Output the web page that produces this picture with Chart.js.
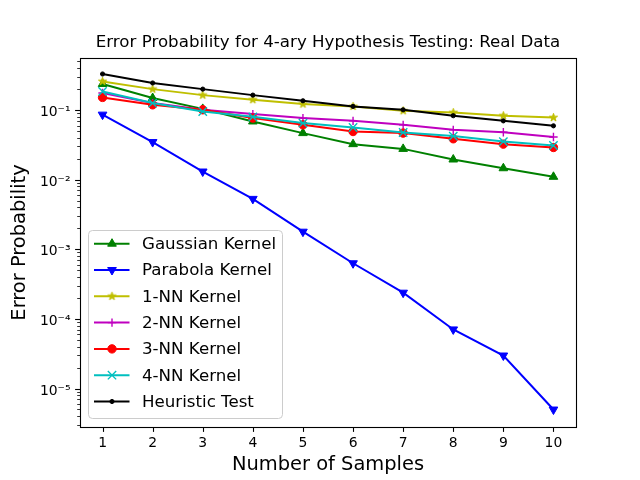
<!DOCTYPE html>
<html>
<head>
<meta charset="utf-8">
<script src="https://cdn.jsdelivr.net/npm/chart.js@4.4.1/dist/chart.umd.min.js"></script>
<style>
  html, body { margin: 0; padding: 0; background: #ffffff; }
  #c { display: block; }
</style>
</head>
<body>
<canvas id="c" width="640" height="480"></canvas>
<script>
// ---------------- DATA ----------------
const samples = [1, 2, 3, 4, 5, 6, 7, 8, 9, 10];
const seriesNames = ["Gaussian Kernel", "Parabola Kernel", "1-NN Kernel", "2-NN Kernel", "3-NN Kernel", "4-NN Kernel", "Heuristic Test"];
const gaussian  = [0.237, 0.149, 0.104, 0.0686, 0.0467, 0.0324, 0.0277, 0.0195, 0.0146, 0.0110];
const parabola  = [0.086, 0.0347, 0.0131, 0.0053, 0.00179, 0.00063, 0.000238, 0.0000706, 0.0000298, 0.00000499];
const nn1       = [0.258, 0.200, 0.164, 0.141, 0.122, 0.113, 0.0977, 0.092, 0.083, 0.078];
const nn2       = [0.176, 0.126, 0.101, 0.0876, 0.0767, 0.070, 0.0614, 0.052, 0.048, 0.041];
const nn3       = [0.152, 0.119, 0.101, 0.0767, 0.0614, 0.0492, 0.0467, 0.0387, 0.0324, 0.029];
const nn4       = [0.185, 0.126, 0.0955, 0.080, 0.065, 0.0562, 0.0477, 0.0423, 0.0353, 0.031];
const heuristic = [0.330, 0.245, 0.200, 0.164, 0.136, 0.113, 0.101, 0.083, 0.070, 0.0594];
const xTickValues = [1, 2, 3, 4, 5, 6, 7, 8, 9, 10];
const yTickExponents = [-5, -4, -3, -2, -1];
const titleText = "Error Probability for 4-ary Hypothesis Testing: Real Data";
const xLabel = "Number of Samples";
const yLabel = "Error Probability";

// ---------------- STYLE ----------------
const FONT = "'DejaVu Sans', sans-serif";
const colors = ["#008000", "#0000ff", "#bfbf00", "#bf00bf", "#ff0000", "#00bfbf", "#000000"];

function makeStar(color, r) {
  const c = document.createElement('canvas');
  const s = Math.ceil(r * 2 + 4);
  c.width = s; c.height = s;
  const g = c.getContext('2d');
  g.beginPath();
  for (let i = 0; i < 10; i++) {
    const ang = -Math.PI / 2 + i * Math.PI / 5;
    const rr = (i % 2) ? r * 0.382 : r;
    g.lineTo(s / 2 + rr * Math.cos(ang), s / 2 + rr * Math.sin(ang));
  }
  g.closePath();
  g.fillStyle = color; g.fill();
  g.strokeStyle = color; g.lineWidth = 1; g.lineJoin = 'miter'; g.stroke();
  return c;
}

const markers = [
  { style: 'triangle', radius: 5, rotation: 0, bw: 1 },
  { style: 'triangle', radius: 5, rotation: 180, bw: 1 },
  { style: makeStar(colors[2], 4.3), radius: 5, rotation: 0, bw: 1 },
  { style: 'cross', radius: 4.2, rotation: 0, bw: 1.4 },
  { style: 'circle', radius: 4.2, rotation: 0, bw: 1 },
  { style: 'crossRot', radius: 5.9, rotation: 0, bw: 1.4 },
  { style: 'circle', radius: 2.1, rotation: 0, bw: 1 }
];

const allSeries = [gaussian, parabola, nn1, nn2, nn3, nn4, heuristic];
const datasets = allSeries.map((vals, i) => ({
  label: seriesNames[i],
  data: samples.map((x, k) => ({ x: x, y: vals[k] })),
  borderColor: colors[i],
  backgroundColor: colors[i],
  borderWidth: 2,
  pointStyle: markers[i].style,
  pointRadius: markers[i].radius,
  pointRotation: markers[i].rotation,
  pointBorderWidth: markers[i].bw,
  pointBackgroundColor: colors[i],
  pointBorderColor: colors[i],
  tension: 0,
  fill: false,
  order: allSeries.length - i
}));

const supMap = { '-': '\u207B', '0': '\u2070', '1': '\u00B9', '2': '\u00B2', '3': '\u00B3', '4': '\u2074', '5': '\u2075', '6': '\u2076', '7': '\u2077', '8': '\u2078', '9': '\u2079' };
function sup(n) { return String(n).split('').map(ch => supMap[ch] || ch).join(''); }
function isPow10(v) {
  const e = Math.round(Math.log10(v));
  return Math.abs(v / Math.pow(10, e) - 1) < 1e-6;
}

// Title centred over the axes (matplotlib style)
const titlePlugin = {
  id: 'axesTitle',
  afterDraw(chart) {
    const ctx = chart.ctx;
    const a = chart.chartArea;
    ctx.save();
    ctx.font = "16.67px " + FONT;
    ctx.fillStyle = '#000';
    ctx.textAlign = 'center';
    ctx.textBaseline = 'middle';
    ctx.fillText(titleText, (a.left + a.right) / 2, a.top - 15);
    ctx.restore();
  }
};

// Frame + tick marks (matplotlib style)
const framePlugin = {
  id: 'frame',
  afterDraw(chart) {
    const ctx = chart.ctx;
    const a = chart.chartArea;
    const xs = chart.scales.x, ys = chart.scales.y;
    ctx.save();
    ctx.strokeStyle = '#000';
    ctx.lineWidth = 1.1;
    xs.ticks.forEach(t => {
      const px = Math.round(xs.getPixelForValue(t.value)) + 0.5;
      ctx.beginPath(); ctx.moveTo(px, a.bottom); ctx.lineTo(px, a.bottom + 4.9); ctx.stroke();
    });
    ys.ticks.forEach(t => {
      const major = isPow10(t.value);
      const py = Math.round(ys.getPixelForValue(t.value)) + 0.5;
      ctx.lineWidth = major ? 1.1 : 0.8;
      ctx.beginPath(); ctx.moveTo(a.left, py); ctx.lineTo(a.left - (major ? 4.9 : 2.8), py); ctx.stroke();
    });
    ctx.lineWidth = 1.1;
    ctx.strokeRect(Math.round(a.left) + 0.5, Math.round(a.top) + 0.5, Math.round(a.right - a.left), Math.round(a.bottom - a.top));
    ctx.restore();
  }
};

// Legend drawn inside the axes (lower-left, matplotlib style)
const legendPlugin = {
  id: 'mplLegend',
  afterDraw(chart) {
    const ctx = chart.ctx;
    const dsets = chart.data.datasets;
    const bx = 88.5, by = 230.5, bw = 194, bh = 188, r = 4;
    ctx.save();
    ctx.beginPath();
    ctx.moveTo(bx + r, by);
    ctx.lineTo(bx + bw - r, by); ctx.quadraticCurveTo(bx + bw, by, bx + bw, by + r);
    ctx.lineTo(bx + bw, by + bh - r); ctx.quadraticCurveTo(bx + bw, by + bh, bx + bw - r, by + bh);
    ctx.lineTo(bx + r, by + bh); ctx.quadraticCurveTo(bx, by + bh, bx, by + bh - r);
    ctx.lineTo(bx, by + r); ctx.quadraticCurveTo(bx, by, bx + r, by);
    ctx.closePath();
    ctx.fillStyle = 'rgba(255,255,255,0.8)'; ctx.fill();
    ctx.strokeStyle = '#cccccc'; ctx.lineWidth = 1; ctx.stroke();
    ctx.font = "16.67px " + FONT;
    ctx.textBaseline = 'middle';
    ctx.textAlign = 'left';
    dsets.forEach((d, i) => {
      const y = 243.7 + i * 26.3;
      ctx.strokeStyle = d.borderColor; ctx.lineWidth = 2;
      ctx.beginPath(); ctx.moveTo(94, y); ctx.lineTo(129.5, y); ctx.stroke();
      ctx.fillStyle = d.pointBackgroundColor;
      ctx.strokeStyle = d.pointBorderColor;
      ctx.lineWidth = d.pointBorderWidth;
      Chart.helpers.drawPoint(ctx, { pointStyle: d.pointStyle, radius: d.pointRadius, rotation: d.pointRotation, borderWidth: d.pointBorderWidth }, 112, y);
      ctx.fillStyle = '#000';
      ctx.fillText(d.label, 142, y + 1);
    });
    ctx.restore();
  }
};

new Chart(document.getElementById('c'), {
  type: 'line',
  data: { datasets: datasets },
  plugins: [titlePlugin, framePlugin, legendPlugin],
  options: {
    responsive: false,
    animation: false,
    devicePixelRatio: 1,
    events: [],
    layout: { padding: { left: 0, right: 64, top: 58, bottom: 0 } },
    plugins: {
      legend: { display: false },
      tooltip: { enabled: false },
      title: { display: false }
    },
    scales: {
      x: {
        type: 'linear',
        min: 0.55,
        max: 10.45,
        afterBuildTicks: (scale) => { scale.ticks = xTickValues.map(v => ({ value: v })); },
        afterFit: (scale) => { scale.height = 53; },
        grid: { display: false, drawTicks: false },
        border: { display: false },
        ticks: {
          color: '#000',
          font: { family: FONT, size: 13.9 },
          padding: 8,
          maxRotation: 0,
          autoSkip: false,
          callback: (v) => String(v)
        },
        title: {
          display: true,
          text: xLabel,
          color: '#000',
          font: { family: FONT, size: 19.44, lineHeight: 1.2 },
          padding: { top: 0, bottom: 3.5 }
        }
      },
      y: {
        type: 'logarithmic',
        min: 2.8e-6,
        max: 0.56,
        afterBuildTicks: (scale) => {
          const t = [];
          for (let e = -7; e <= 0; e++) {
            for (let m = 1; m <= 9; m++) {
              const v = m * Math.pow(10, e);
              if (v >= scale.min && v <= scale.max) t.push({ value: v });
            }
          }
          scale.ticks = t;
        },
        afterFit: (scale) => { scale.width = 80; },
        grid: { display: false, drawTicks: false },
        border: { display: false },
        ticks: {
          color: '#000',
          font: { family: FONT, size: 13.9 },
          padding: 9.5,
          labelOffset: 2.5,
          autoSkip: false,
          callback: (v) => {
            if (!isPow10(v)) return '';
            const e = Math.round(Math.log10(v));
            return yTickExponents.includes(e) ? '10' + sup(e) : '';
          }
        },
        title: {
          display: true,
          text: yLabel,
          color: '#000',
          font: { family: FONT, size: 19.44, lineHeight: 1.2 },
          padding: { top: 8.5, bottom: 0 }
        }
      }
    }
  }
});
</script>
</body>
</html>
